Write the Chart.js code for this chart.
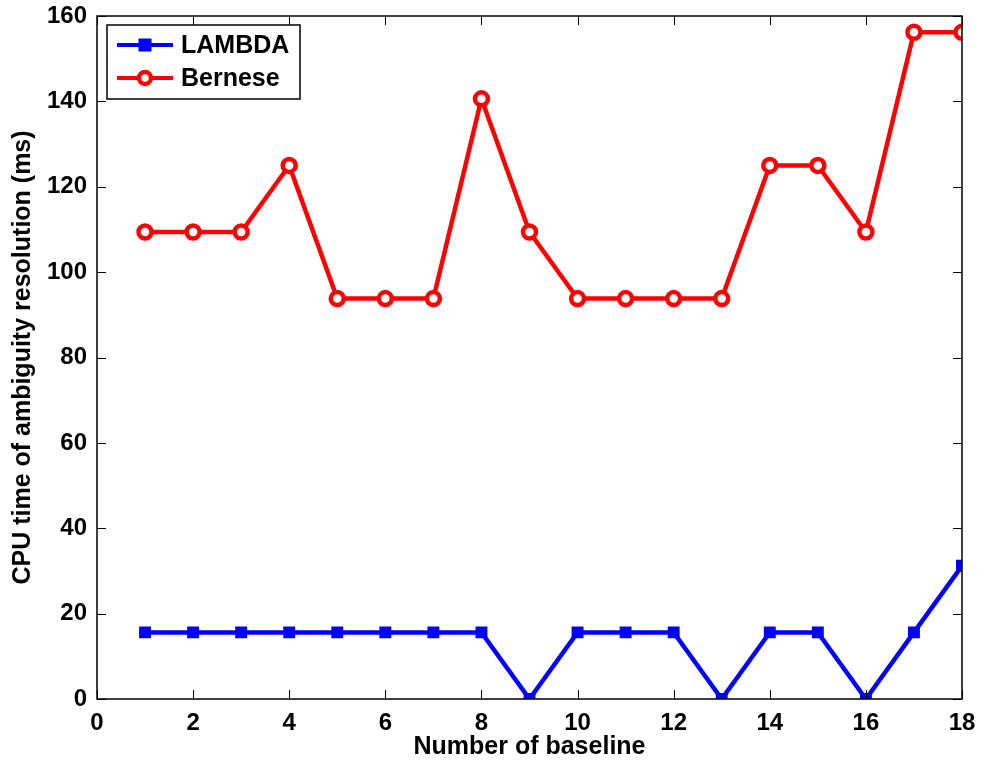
<!DOCTYPE html>
<html>
<head>
<meta charset="utf-8">
<script src="https://cdn.jsdelivr.net/npm/chart.js@4"></script>
<style>
  html, body { margin: 0; padding: 0; background: #fff; }
  #wrap { width: 985px; height: 769px; }
</style>
</head>
<body>
<div id="wrap"><canvas id="cpuChart" width="985" height="769"></canvas></div>
<script>
// baseline numbers (x axis)
const baselines = [1, 2, 3, 4, 5, 6, 7, 8, 9, 10, 11, 12, 13, 14, 15, 16, 17, 18];
// CPU time (ms) per method
const lambdaTimes = [15.6, 15.6, 15.6, 15.6, 15.6, 15.6, 15.6, 15.6, 0, 15.6, 15.6, 15.6, 0, 15.6, 15.6, 0, 15.6, 31.2];
const berneseTimes = [109.4, 109.4, 109.4, 125, 93.8, 93.8, 93.8, 140.6, 109.4, 93.8, 93.8, 93.8, 93.8, 125, 125, 109.4, 156.2, 156.2];
const seriesNames = ['LAMBDA', 'Bernese'];
const xTicks = [0, 2, 4, 6, 8, 10, 12, 14, 16, 18];
const yTicks = [0, 20, 40, 60, 80, 100, 120, 140, 160];

const FONT = '"Liberation Sans", Arial, Helvetica, sans-serif';

function toPoints(vals) {
    return baselines.map((b, i) => ({ x: b, y: vals[i] }));
}

// MATLAB-style box, inward ticks and legend
const boxPlugin = {
    id: 'boxPlugin',
    afterDraw(chart) {
        const ctx = chart.ctx;
        const a = chart.chartArea;
        const xs = chart.scales.x, ys = chart.scales.y;
        ctx.save();
        ctx.strokeStyle = '#000';
        ctx.lineWidth = 1.5;
        ctx.strokeRect(a.left, a.top, a.right - a.left, a.bottom - a.top);
        ctx.lineWidth = 1;
        const tl = 9;
        ctx.beginPath();
        xTicks.forEach(t => {
            const px = Math.round(xs.getPixelForValue(t)) + 0.5;
            ctx.moveTo(px, a.bottom); ctx.lineTo(px, a.bottom - tl);
            ctx.moveTo(px, a.top); ctx.lineTo(px, a.top + tl);
        });
        yTicks.forEach(t => {
            const py = Math.round(ys.getPixelForValue(t)) + 0.5;
            ctx.moveTo(a.left, py); ctx.lineTo(a.left + tl, py);
            ctx.moveTo(a.right, py); ctx.lineTo(a.right - tl, py);
        });
        ctx.stroke();

        // legend
        const lx = a.left + 10, ly = a.top + 9, lw = 193, lh = 74;
        ctx.fillStyle = '#fff';
        ctx.fillRect(lx, ly, lw, lh);
        ctx.lineWidth = 1.5;
        ctx.strokeRect(lx, ly, lw, lh);
        const ds = chart.data.datasets;
        ds.forEach((d, i) => {
            const cy = ly + 20 + i * 33;
            ctx.strokeStyle = d.borderColor;
            ctx.lineWidth = 4;
            ctx.beginPath();
            ctx.moveTo(lx + 10, cy); ctx.lineTo(lx + 66, cy);
            ctx.stroke();
            const mx = lx + 38;
            if (d.pointStyle === 'rect') {
                ctx.fillStyle = d.borderColor;
                ctx.fillRect(mx - 6.5, cy - 6.5, 13, 13);
            } else {
                ctx.lineWidth = 4.5;
                ctx.fillStyle = '#fff';
                ctx.beginPath();
                ctx.arc(mx, cy, 6, 0, Math.PI * 2);
                ctx.fill();
                ctx.stroke();
            }
            ctx.fillStyle = '#000';
            ctx.font = 'bold 25px ' + FONT;
            ctx.textBaseline = 'middle';
            ctx.fillText(seriesNames[i], lx + 74, cy + 1);
        });
        ctx.restore();
    }
};

const ctx = document.getElementById('cpuChart').getContext('2d');
new Chart(ctx, {
    type: 'line',
    data: {
        datasets: [{
            label: seriesNames[0],
            data: toPoints(lambdaTimes),
            borderColor: '#0000ff',
            backgroundColor: '#0000ff',
            borderWidth: 4.5,
            pointStyle: 'rect',
            pointRadius: 7,
            pointBorderWidth: 2,
            pointBackgroundColor: '#0000ff',
            tension: 0
        }, {
            label: seriesNames[1],
            data: toPoints(berneseTimes),
            borderColor: '#ff0000',
            backgroundColor: '#ff0000',
            borderWidth: 4.5,
            pointStyle: 'circle',
            pointRadius: 6.5,
            pointBorderWidth: 4.5,
            pointBackgroundColor: '#ffffff',
            tension: 0
        }]
    },
    options: {
        responsive: false,
        animation: false,
        layout: { padding: { top: 16, right: 23, left: 0, bottom: 0 } },
        plugins: {
            legend: { display: false },
            tooltip: { enabled: false }
        },
        scales: {
            x: {
                type: 'linear',
                min: 0, max: 18,
                afterBuildTicks: s => { s.ticks = xTicks.map(v => ({ value: v })); },
                afterFit: s => { s.height = 70; s.paddingLeft = 0; s.paddingRight = 0; },
                grid: { display: false, drawTicks: false },
                border: { display: false },
                ticks: { color: '#000', padding: 10, font: { family: FONT, size: 24, weight: 'bold' } },
                title: { display: true, text: 'Number of baseline', color: '#000',
                    font: { family: FONT, size: 25, weight: 'bold' }, padding: { top: 0, bottom: 7 } }
            },
            y: {
                min: 0, max: 160,
                afterBuildTicks: s => { s.ticks = yTicks.map(v => ({ value: v })); },
                afterFit: s => { s.width = 97; s.paddingTop = 0; s.paddingBottom = 0; },
                grid: { display: false, drawTicks: false },
                border: { display: false },
                ticks: { color: '#000', padding: 10, font: { family: FONT, size: 24, weight: 'bold' } },
                title: { display: true, text: 'CPU time of ambiguity resolution (ms)', color: '#000',
                    font: { family: FONT, size: 25, weight: 'bold' }, padding: { top: 8, bottom: 0 } }
            }
        }
    },
    plugins: [boxPlugin]
});
</script>
</body>
</html>
